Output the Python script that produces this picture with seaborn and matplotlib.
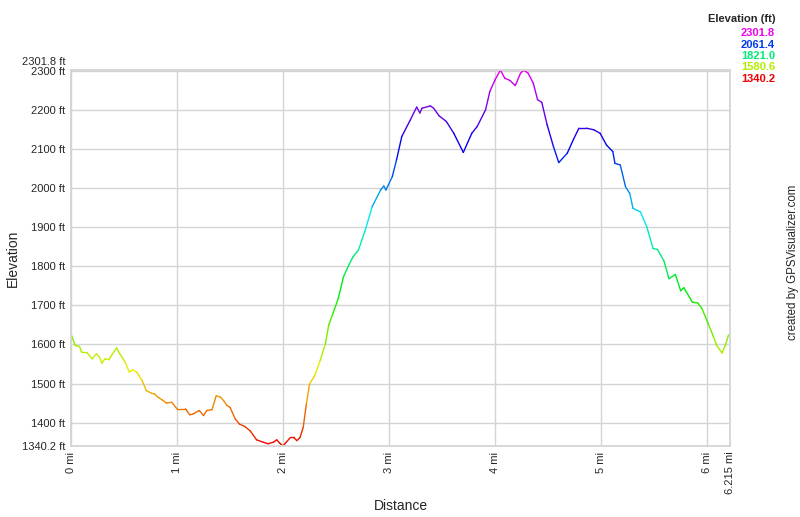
import numpy as np
import matplotlib
matplotlib.use("Agg")
import matplotlib.pyplot as plt
import seaborn as sns
from matplotlib.collections import LineCollection
from matplotlib.colors import hsv_to_rgb

# %% Data
dist_mi = [0.0, 0.04, 0.08, 0.10, 0.15, 0.20, 0.24, 0.27, 0.29, 0.32, 0.36, 0.37, 0.43, 0.46,
           0.51, 0.55, 0.58, 0.62, 0.67, 0.71, 0.76, 0.79, 0.82, 0.86, 0.90, 0.95, 1.00, 1.08,
           1.12, 1.15, 1.21, 1.25, 1.28, 1.33, 1.37, 1.41, 1.44, 1.47, 1.50, 1.55, 1.59, 1.64,
           1.69, 1.75, 1.81, 1.86, 1.91, 1.94, 1.97, 2.00, 2.03, 2.07, 2.10, 2.13, 2.16, 2.19,
           2.22, 2.25, 2.30, 2.35, 2.40, 2.43, 2.47, 2.52, 2.57, 2.62, 2.66, 2.71, 2.77, 2.84,
           2.92, 2.95, 2.97, 3.03, 3.07, 3.12, 3.20, 3.26, 3.29, 3.31, 3.39, 3.42, 3.47, 3.54,
           3.61, 3.70, 3.78, 3.83, 3.91, 3.95, 4.00, 4.05, 4.09, 4.14, 4.19, 4.24, 4.27, 4.31,
           4.36, 4.40, 4.44, 4.49, 4.55, 4.60, 4.68, 4.74, 4.79, 4.86, 4.93, 4.99, 5.05, 5.11,
           5.13, 5.18, 5.23, 5.27, 5.30, 5.37, 5.43, 5.49, 5.53, 5.59, 5.64, 5.70, 5.75, 5.78,
           5.86, 5.91, 5.95, 6.01, 6.06, 6.09, 6.14, 6.17, 6.20, 6.215]
elev_ft = [1627, 1597, 1595, 1580, 1579, 1563, 1576, 1567, 1552, 1563, 1561, 1567, 1591, 1576,
           1555, 1529, 1535, 1529, 1508, 1482, 1475, 1473, 1465, 1458, 1450, 1452, 1435, 1435,
           1420, 1422, 1431, 1418, 1431, 1433, 1469, 1465, 1456, 1444, 1439, 1409, 1396, 1390,
           1379, 1356, 1350, 1346, 1350, 1356, 1347, 1340.2, 1350, 1362, 1362, 1354, 1362, 1388,
           1448, 1499, 1521, 1559, 1602, 1649, 1679, 1717, 1773, 1803, 1824, 1841, 1888, 1952,
           1995, 2005, 1995, 2029, 2072, 2132, 2174, 2207, 2192, 2204, 2210, 2204, 2185, 2170,
           2140, 2091, 2140, 2157, 2200, 2247, 2277, 2301.8, 2281, 2275, 2262, 2294, 2301, 2294,
           2268, 2226, 2219, 2162, 2106, 2065, 2089, 2125, 2153, 2153, 2149, 2140, 2110, 2093,
           2063, 2059, 2003, 1986, 1948, 1939, 1901, 1845, 1843, 1815, 1768, 1779, 1737, 1745,
           1708, 1706, 1692, 1653, 1619, 1597, 1578, 1597, 1623, 1626]

elev_min, elev_max = 1340.2, 2301.8
total_dist = 6.215
y_ticks = [1340.2, 1400, 1500, 1600, 1700, 1800, 1900, 2000, 2100, 2200, 2300]
x_ticks = [0, 1, 2, 3, 4, 5, 6, 6.215]
legend_vals = [2301.8, 2061.4, 1821.0, 1580.6, 1340.2]


def elev_color(v):
    # red -> yellow -> green -> cyan -> blue -> magenta
    frac = np.clip((v - elev_min) / (elev_max - elev_min), 0, 1)
    return hsv_to_rgb([frac * 300 / 360, 1.0, 0.93])


# %% Style
sns.set_style("white")
plt.rcParams['font.family'] = ['Liberation Sans', 'DejaVu Sans']

fig = plt.figure(figsize=(8, 5.17), dpi=100)
ax = fig.add_axes([71 / 800, 1 - 446 / 517, 659 / 800, 376 / 517])

# %% Profile line, coloured by elevation
x = np.array(dist_mi)
y = np.array(elev_ft)
pts = np.column_stack([x, y]).reshape(-1, 1, 2)
segs = np.concatenate([pts[:-1], pts[1:]], axis=1)
seg_colors = [elev_color((a + b) / 2) for a, b in zip(y[:-1], y[1:])]
ax.add_collection(LineCollection(segs, colors=seg_colors, linewidths=1.0, capstyle='round'))

ax.set_xlim(0, total_dist)
ax.set_ylim(elev_min, elev_max)

# grid / frame
grid_c = '#d4d4d4'
for v in x_ticks[:-1]:
    ax.axvline(v, color=grid_c, lw=1, zorder=0)
for v in y_ticks[1:]:
    ax.axhline(v, color=grid_c, lw=1, zorder=0)
for s in ax.spines.values():
    s.set_color(grid_c)
    s.set_linewidth(1.3)

ax.set_yticks(y_ticks)
ax.set_yticklabels([f"{v:g} ft" for v in y_ticks], fontsize=8)
ax.set_xticks(x_ticks)
ax.set_xticklabels([f"{v:g} mi" for v in x_ticks], fontsize=8, rotation=90, va='top')
ax.tick_params(axis='both', length=0)
ax.tick_params(axis='y', pad=4)
ax.tick_params(axis='x', pad=4)
ax.annotate(f"{elev_max} ft", xy=(0, elev_max), xycoords=('axes fraction', 'data'),
            xytext=(-4, 2), textcoords='offset points', ha='right', va='bottom', fontsize=8)

ax.set_xlabel("Distance", fontsize=10)
ax.set_ylabel("Elevation", fontsize=10)
ax.xaxis.set_label_coords(0.5, -0.14)
ax.yaxis.set_label_coords(-0.077, 0.5)

# %% Colour key and credit
fig.text(775 / 800, 1 - 19 / 517, "Elevation (ft)", ha='right', va='center',
         fontsize=8, fontweight='bold')
for i, v in enumerate(legend_vals):
    fig.text(775 / 800, 1 - (33 + i * 11.5) / 517, f"{v:.1f}", ha='right', va='center',
             fontsize=8, fontweight='bold', color=elev_color(v))
fig.text(793 / 800, 1 - 262 / 517, "created by GPSVisualizer.com", rotation=90,
         ha='center', va='center', fontsize=8.3)

fig.savefig("out.png", dpi=100)
